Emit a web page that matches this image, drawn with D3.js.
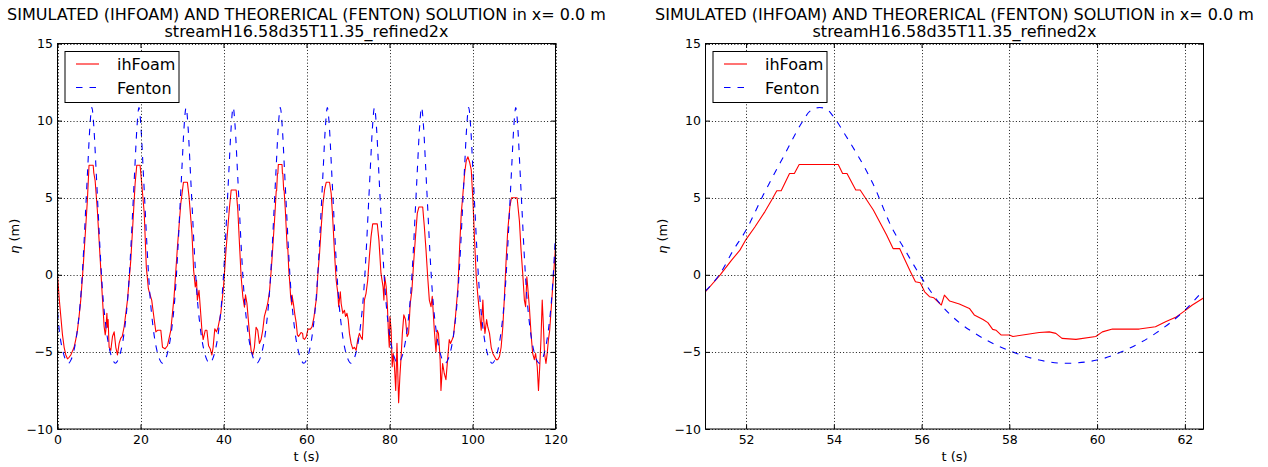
<!DOCTYPE html>
<html><head><meta charset="utf-8">
<script src="https://cdn.jsdelivr.net/npm/d3@7"></script>
<style>
body{margin:0;background:#fff;}
svg{display:block;font-family:"DejaVu Sans",sans-serif;}
</style></head><body>
<svg id="chart" width="1268" height="467"></svg>
<script>
const titleLine1 = "SIMULATED (IHFOAM) AND THEORERICAL (FENTON) SOLUTION in x= 0.0 m";
const titleLine2 = "streamH16.58d35T11.35_refined2x";
const seriesNames = ["ihFoam", "Fenton"];
const xLabel = "t (s)";
const yLabelSymbol = "η";
const yLabelUnit = " (m)";
const yTicks = [-10, -5, 0, 5, 10, 15];
const yDomain = [-10, 15];
const leftXTicks = [0, 20, 40, 60, 80, 100, 120];
const leftXDomain = [0, 120];
const rightXTicks = [52, 54, 56, 58, 60, 62];
const rightXDomain = [51.075, 62.425];

// ihFoam, full record (t, eta)
const ihfoamFull = [
[0,0],[0.4,-1.5],[0.8,-2.7],[1.2,-3.9],[1.6,-4.7],[2.0,-5.2],[2.4,-5.45],[2.8,-5.35],[3.2,-5.2],[3.6,-4.95],[4.0,-4.7],[4.4,-4.2],[4.8,-3.6],[5.2,-2.7],[5.6,-1.64],[6.0,-0.2],[6.4,1.4],[6.8,3.1],[7.2,4.84],[7.6,7.1],[8.6,7.1],[8.75,6.6],[9.07,6.1],[9.6,4.2],[10.3,0.95],[10.8,-1.4],[11.24,-3.37],[11.5,-3.9],[11.64,-3.6],[11.9,-2.5],[12.05,-3.4],[12.2,-2.9],[12.44,-4.7],[12.84,-4.9],[13.25,-4.0],[13.65,-3.7],[14.05,-4.7],[14.45,-5.2],[14.85,-4.45],[15.25,-4.1],[15.6,-4.0],[16.06,-3.37],[16.86,-1.64],[17.66,0.95],[18.2,3.5],[18.7,5.9],[19.1,7.1],[19.9,7.1],[20.3,5.9],[20.9,4.0],[21.4,0.5],[21.9,-0.9],[22.2,-1.2],[22.7,-1.64],[23.3,-2.9],[23.7,-3.7],[24.1,-3.6],[24.9,-3.6],[25.3,-4.7],[25.9,-4.8],[26.5,-4.6],[27.3,-3.6],[28.1,-1.4],[28.9,1.8],[29.7,4.6],[30.35,6.0],[31.3,6.0],[31.7,5.05],[32.4,2.7],[32.8,0.3],[33.2,-0.78],[33.5,-0.35],[33.7,-1.64],[34.1,-1.0],[34.4,-2.1],[34.8,-3.6],[35.1,-4.2],[35.6,-3.6],[36.0,-3.6],[36.4,-4.6],[36.8,-4.8],[37.2,-5.2],[37.5,-4.7],[37.9,-3.5],[38.3,-3.7],[38.7,-3.4],[39.35,-2.5],[40.0,-0.8],[40.6,1.6],[41.45,4.4],[41.85,5.5],[43.05,5.5],[43.45,4.2],[43.85,2.0],[44.25,-0.13],[44.65,-1.4],[45.05,-2.1],[45.3,-1.3],[45.65,-1.86],[45.85,-2.5],[46.25,-3.8],[46.65,-4.9],[47.05,-5.2],[47.45,-4.7],[47.85,-3.4],[48.25,-3.6],[48.65,-4.45],[49.05,-4.2],[49.45,-3.6],[49.85,-2.7],[50.25,-2.3],[50.65,-1.86],
[51.08,-1.1],[51.41,0.0],[51.67,0.95],[52.0,2.3],[52.43,4.1],[52.7,5.45],[52.8,5.45],[53.0,6.57],[53.1,6.57],[53.21,7.15],[54.1,7.15],[54.2,6.57],[54.3,6.57],[54.5,5.5],[54.6,5.5],[54.9,4.2],[55.35,1.7],[55.5,1.7],[55.73,0.3],[55.97,-0.52],[56.18,-1.42],[56.45,-1.96],[56.52,-1.32],[56.86,-1.9],[57.2,-2.6],[57.51,-3.1],[57.81,-3.9],[58.08,-4.0],[58.68,-3.74],[59.06,-3.8],[59.2,-4.12],[59.52,-4.19],[59.97,-4.0],[60.35,-3.52],[60.96,-3.52],[61.33,-3.37],[61.79,-2.76],[62.17,-1.96],[62.42,-1.5],
[62.75,0.09],[63.15,1.4],[63.55,3.1],[63.95,4.6],[64.35,5.5],[64.75,6.0],[65.55,6.0],[65.95,5.27],[66.35,3.5],[66.75,1.4],[67.15,-0.35],[67.55,-1.2],[67.75,-2.07],[68.15,-1.1],[68.35,-1.86],[68.75,-2.5],[69.15,-2.3],[69.4,-2.7],[69.75,-2.5],[70.05,-2.9],[70.35,-3.8],[70.75,-4.45],[71.15,-4.8],[71.55,-4.7],[71.95,-4.9],[72.35,-4.2],[72.75,-3.8],[73.05,-4.0],[73.45,-4.2],[73.75,-2.7],[73.95,-1.64],[74.35,-1.2],[74.75,-0.35],[75.15,1.17],[75.55,2.46],[75.95,3.3],[77.05,3.3],[77.45,2.25],[77.95,0.09],[78.45,-0.78],[78.65,-1.64],[78.85,-0.13],[79.2,-0.78],[79.5,-2.07],[79.75,-3.8],[79.95,-4.7],[80.1,-2.7],[80.4,-3.6],[80.65,-5.96],
[80.9,-5.1],[81.2,-5.96],[81.5,-7.5],[81.8,-4.45],[82.2,-8.3],[82.5,-6.6],[82.8,-5.3],[83.1,-3.8],[83.45,-2.6],[83.85,-2.9],[84.25,-4.0],[84.6,-3.8],[85.0,-1.86],[85.4,-1.0],[85.8,0.73],[86.2,2.25],[86.7,4.0],[87.1,4.4],[88.0,4.4],[88.4,3.1],[88.8,1.6],[89.2,-0.13],[89.6,-1.64],[90.0,-2.07],[90.3,-1.4],[90.6,-2.7],[90.8,-3.6],[91.2,-5.0],[91.5,-3.6],[91.8,-3.8],[92.2,-5.5],[92.4,-7.5],[92.8,-5.75],[93.2,-6.4],[93.6,-6.8],[94.0,-5.5],[94.4,-4.2],[94.7,-4.45],[95.1,-4.2],[95.4,-4.0],[95.9,-2.7],[96.5,-0.78],[96.9,1.8],[97.3,4.0],[97.7,5.27],[98.1,6.57],[98.5,7.4],[98.9,7.65],[99.3,7.3],[99.7,6.8],[100.1,4.84],[100.5,2.25],[100.9,-0.13],[101.3,-1.4],[101.7,-2.5],[102.1,-3.6],[102.5,-1.64],[102.7,-2.9],[103.0,-3.8],[103.4,-2.9],[103.7,-3.4],[104.1,-3.8],[104.5,-4.7],[104.9,-5.1],[105.3,-5.3],[105.7,-5.5],[106.1,-5.5],[106.5,-5.3],[106.9,-4.7],[107.3,-3.4],[107.7,-1.4],[108.1,0.95],[108.5,2.9],[109.0,4.4],[109.4,5.0],[110.75,5.0],[111.3,3.5],[111.7,1.6],[112.1,0.09],[112.5,-1.64],[112.8,-2.07],[113.1,-0.13],[113.3,-0.78],[113.7,-2.07],[114.1,-3.8],[114.5,-5.1],[114.9,-5.5],[115.2,-5.1],[115.6,-5.96],[115.9,-7.5],[116.2,-5.96],[116.5,-4.2],[116.8,-1.64],[117.1,-3.4],[117.35,-5.1],[117.7,-5.75],[118.0,-5.1],[118.3,-4.2],[118.6,-3.6],[119.1,-1.64],[119.5,-0.13],[119.9,1.4],[120.0,2.0]
];

// Fenton theory, full record (t, eta)
const fentonFull = [
[0,-2.4],[0.43,-3.6],[1.43,-5.1],[1.93,-5.5],[2.61,-5.74],
[3.28,-5.5],[3.78,-5.1],[4.78,-3.6],[5.68,-1.15],[6.28,1.5],[6.78,4.2],[7.28,6.9],[7.78,9.5],[8.28,10.85],[8.78,9.5],[9.28,6.9],[9.78,4.2],[10.28,1.5],[10.88,-1.15],[11.78,-3.6],[12.78,-5.1],[13.28,-5.5],[13.96,-5.74],
[14.63,-5.5],[15.13,-5.1],[16.13,-3.6],[17.03,-1.15],[17.63,1.5],[18.13,4.2],[18.63,6.9],[19.13,9.5],[19.63,10.85],[20.13,9.5],[20.63,6.9],[21.13,4.2],[21.63,1.5],[22.23,-1.15],[23.13,-3.6],[24.13,-5.1],[24.63,-5.5],[25.31,-5.74],
[25.98,-5.5],[26.48,-5.1],[27.48,-3.6],[28.38,-1.15],[28.98,1.5],[29.48,4.2],[29.98,6.9],[30.48,9.5],[30.98,10.85],[31.48,9.5],[31.98,6.9],[32.48,4.2],[32.98,1.5],[33.58,-1.15],[34.48,-3.6],[35.48,-5.1],[35.98,-5.5],[36.66,-5.74],
[37.33,-5.5],[37.83,-5.1],[38.83,-3.6],[39.73,-1.15],[40.33,1.5],[40.83,4.2],[41.33,6.9],[41.83,9.5],[42.33,10.85],[42.83,9.5],[43.33,6.9],[43.83,4.2],[44.33,1.5],[44.93,-1.15],[45.83,-3.6],[46.83,-5.1],[47.33,-5.5],[48.01,-5.74],
[48.68,-5.5],[49.18,-5.1],[50.18,-3.6],[51.08,-1.15],[51.68,1.5],[52.18,4.2],[52.68,6.9],[53.18,9.5],[53.68,10.85],[54.18,9.5],[54.68,6.9],[55.18,4.2],[55.68,1.5],[56.28,-1.15],[57.18,-3.6],[58.18,-5.1],[58.68,-5.5],[59.36,-5.74],
[60.03,-5.5],[60.53,-5.1],[61.53,-3.6],[62.43,-1.15],[63.03,1.5],[63.53,4.2],[64.03,6.9],[64.53,9.5],[65.03,10.85],[65.53,9.5],[66.03,6.9],[66.53,4.2],[67.03,1.5],[67.63,-1.15],[68.53,-3.6],[69.53,-5.1],[70.03,-5.5],[70.71,-5.74],
[71.38,-5.5],[71.88,-5.1],[72.88,-3.6],[73.78,-1.15],[74.38,1.5],[74.88,4.2],[75.38,6.9],[75.88,9.5],[76.38,10.85],[76.88,9.5],[77.38,6.9],[77.88,4.2],[78.38,1.5],[78.98,-1.15],[79.88,-3.6],[80.88,-5.1],[81.38,-5.5],[82.06,-5.74],
[82.73,-5.5],[83.23,-5.1],[84.23,-3.6],[85.13,-1.15],[85.73,1.5],[86.23,4.2],[86.73,6.9],[87.23,9.5],[87.73,10.85],[88.23,9.5],[88.73,6.9],[89.23,4.2],[89.73,1.5],[90.33,-1.15],[91.23,-3.6],[92.23,-5.1],[92.73,-5.5],[93.41,-5.74],
[94.08,-5.5],[94.58,-5.1],[95.58,-3.6],[96.48,-1.15],[97.08,1.5],[97.58,4.2],[98.08,6.9],[98.58,9.5],[99.08,10.85],[99.58,9.5],[100.08,6.9],[100.58,4.2],[101.08,1.5],[101.68,-1.15],[102.58,-3.6],[103.58,-5.1],[104.08,-5.5],[104.76,-5.74],
[105.43,-5.5],[105.93,-5.1],[106.93,-3.6],[107.83,-1.15],[108.43,1.5],[108.93,4.2],[109.43,6.9],[109.93,9.5],[110.43,10.85],[110.93,9.5],[111.43,6.9],[111.93,4.2],[112.43,1.5],[113.03,-1.15],[113.93,-3.6],[114.93,-5.1],[115.43,-5.5],[116.11,-5.74],
[116.78,-5.5],[117.28,-5.1],[118.28,-3.6],[119.18,-1.15],[119.78,1.5],[120.0,2.6]
];

// ihFoam, one period (t, eta)
const ihfoamZoom = [
[51.075,-1.1],[51.41,0.0],[51.67,0.95],[51.86,1.6],[52.0,2.3],[52.2,3.1],[52.43,4.1],[52.58,4.84],[52.7,5.45],[52.8,5.45],[52.99,6.57],[53.1,6.57],[53.21,7.15],[54.1,7.15],[54.2,6.57],[54.3,6.57],[54.5,5.5],[54.6,5.5],[54.9,4.2],[55.2,2.6],[55.35,1.7],[55.5,1.7],[55.73,0.3],[55.86,-0.45],[55.97,-0.52],[56.07,-1.1],[56.18,-1.42],[56.28,-1.49],[56.45,-1.96],[56.52,-1.32],[56.64,-1.7],[56.86,-1.9],[57.09,-2.18],[57.2,-2.6],[57.4,-2.9],[57.51,-3.1],[57.62,-3.54],[57.7,-3.6],[57.81,-3.9],[58.0,-3.9],[58.08,-4.0],[58.38,-3.87],[58.68,-3.74],[58.91,-3.7],[59.06,-3.8],[59.2,-4.12],[59.52,-4.19],[59.97,-4.0],[60.12,-3.7],[60.35,-3.52],[60.96,-3.52],[61.33,-3.37],[61.56,-3.04],[61.79,-2.76],[62.02,-2.29],[62.17,-1.96],[62.425,-1.5]
];

// Fenton, one period (t, eta)
const fentonZoom = [
[51.075,-1.05],[51.41,0.09],[51.71,1.6],[52.0,2.9],[52.39,5.17],[52.85,7.65],[53.3,10.0],[53.45,10.6],[53.68,10.85],[53.87,10.67],[53.98,10.3],[54.29,8.94],[54.89,5.92],[55.35,2.9],[55.58,1.81],[56.0,-0.2],[56.41,-1.84],[56.86,-3.1],[57.16,-3.7],[58.0,-4.92],[58.68,-5.53],[59.29,-5.74],[60.0,-5.53],[60.65,-4.88],[61.33,-3.8],[62.0,-2.29],[62.425,-0.99]
];

const svg = d3.select("#chart");
const plotTop = 43.5, plotBottom = 429;
const panels = [
  {x0: 57.5, x1: 555.5, domain: leftXDomain, ticks: leftXTicks, ih: ihfoamFull, fe: fentonFull},
  {x0: 705.5, x1: 1203.5, domain: rightXDomain, ticks: rightXTicks, ih: ihfoamZoom, fe: fentonZoom}
];
const red = "#ff0000", blue = "#0000ff";
const dash = "6.5,7";

panels.forEach((p, i) => {
  const x = d3.scaleLinear().domain(p.domain).range([p.x0, p.x1]);
  const y = d3.scaleLinear().domain(yDomain).range([plotBottom, plotTop]);
  const g = svg.append("g");
  const cid = "clip" + i;
  g.append("clipPath").attr("id", cid).append("rect")
    .attr("x", p.x0).attr("y", plotTop).attr("width", p.x1 - p.x0).attr("height", plotBottom - plotTop);

  const line = d3.line().x(d => x(d[0])).y(d => y(d[1]));
  const smooth = d3.line().x(d => x(d[0])).y(d => y(d[1])).curve(d3.curveMonotoneX);

  const plot = g.append("g").attr("clip-path", `url(#${cid})`);
  plot.append("path").datum(p.ih).attr("d", line)
    .attr("fill", "none").attr("stroke", red).attr("stroke-width", 1.1).attr("stroke-linejoin", "round");
  plot.append("path").datum(p.fe).attr("d", smooth)
    .attr("fill", "none").attr("stroke", blue).attr("stroke-width", 1.1).attr("stroke-dasharray", dash);

  // grid (drawn above lines as in the classic style)
  const grid = g.append("g").attr("stroke", "#000").attr("stroke-width", 0.9).attr("stroke-dasharray", "1,2.2");
  p.ticks.forEach(t => {
    const xx = Math.round(x(t)) + 0.5;
    grid.append("line").attr("x1", xx).attr("x2", xx).attr("y1", plotTop).attr("y2", plotBottom);
  });
  yTicks.forEach(t => {
    const yy = Math.round(y(t)) + 0.5;
    grid.append("line").attr("x1", p.x0).attr("x2", p.x1).attr("y1", yy).attr("y2", yy);
  });

  // axes with inward ticks on all sides
  const fmt = d3.format("d");
  const styleAxis = sel => {
    sel.select(".domain").remove();
    sel.selectAll(".tick line").attr("stroke", "#000").attr("stroke-width", 1);
    sel.selectAll(".tick text").attr("fill", "#000").attr("font-size", "12.5px").attr("font-family", "DejaVu Sans");
  };
  g.append("g").attr("transform", `translate(0,${plotBottom})`)
    .call(d3.axisBottom(x).tickValues(p.ticks).tickFormat(fmt).tickSize(-4.5).tickPadding(6)).call(styleAxis);
  g.append("g").attr("transform", `translate(0,${plotTop})`)
    .call(d3.axisTop(x).tickValues(p.ticks).tickFormat("").tickSize(-4.5)).call(styleAxis);
  g.append("g").attr("transform", `translate(${p.x0},0)`)
    .call(d3.axisLeft(y).tickValues(yTicks).tickFormat(fmt).tickSize(-4.5).tickPadding(4.5)).call(styleAxis);
  g.append("g").attr("transform", `translate(${p.x1},0)`)
    .call(d3.axisRight(y).tickValues(yTicks).tickFormat("").tickSize(-4.5)).call(styleAxis);

  g.append("rect").attr("x", p.x0).attr("y", plotTop).attr("width", p.x1 - p.x0).attr("height", plotBottom - plotTop)
    .attr("fill", "none").attr("stroke", "#000").attr("stroke-width", 1);

  // legend
  const lg = g.append("g").attr("transform", `translate(${p.x0},0)`);
  lg.append("rect").attr("x", 7.5).attr("y", 51.5).attr("width", 114).attr("height", 51)
    .attr("fill", "#fff").attr("stroke", "#000").attr("stroke-width", 1);
  lg.append("line").attr("x1", 18.5).attr("x2", 41.5).attr("y1", 64).attr("y2", 64)
    .attr("stroke", red).attr("stroke-width", 1.1);
  lg.append("line").attr("x1", 18.5).attr("x2", 41.5).attr("y1", 87.5).attr("y2", 87.5)
    .attr("stroke", blue).attr("stroke-width", 1.1).attr("stroke-dasharray", dash);
  lg.append("text").attr("x", 59.5).attr("y", 70).attr("font-size", "16px").text(seriesNames[0]);
  lg.append("text").attr("x", 59.5).attr("y", 93.5).attr("font-size", "16px").text(seriesNames[1]);

  // titles
  const cx = (p.x0 + p.x1) / 2;
  g.append("text").attr("x", cx).attr("y", 20).attr("text-anchor", "middle").attr("font-size", "16px").text(titleLine1);
  g.append("text").attr("x", cx).attr("y", 37).attr("text-anchor", "middle").attr("font-size", "16px").text(titleLine2);

  // axis labels
  g.append("text").attr("x", cx).attr("y", 461).attr("text-anchor", "middle").attr("font-size", "13px").text(xLabel);
  const yl = g.append("text").attr("transform", `translate(${p.x0 - 39},${(plotTop + plotBottom) / 2}) rotate(-90)`)
    .attr("text-anchor", "middle").attr("font-size", "13px");
  yl.append("tspan").attr("font-style", "italic").text(yLabelSymbol);
  yl.append("tspan").text(yLabelUnit);
});
</script>
</body></html>
